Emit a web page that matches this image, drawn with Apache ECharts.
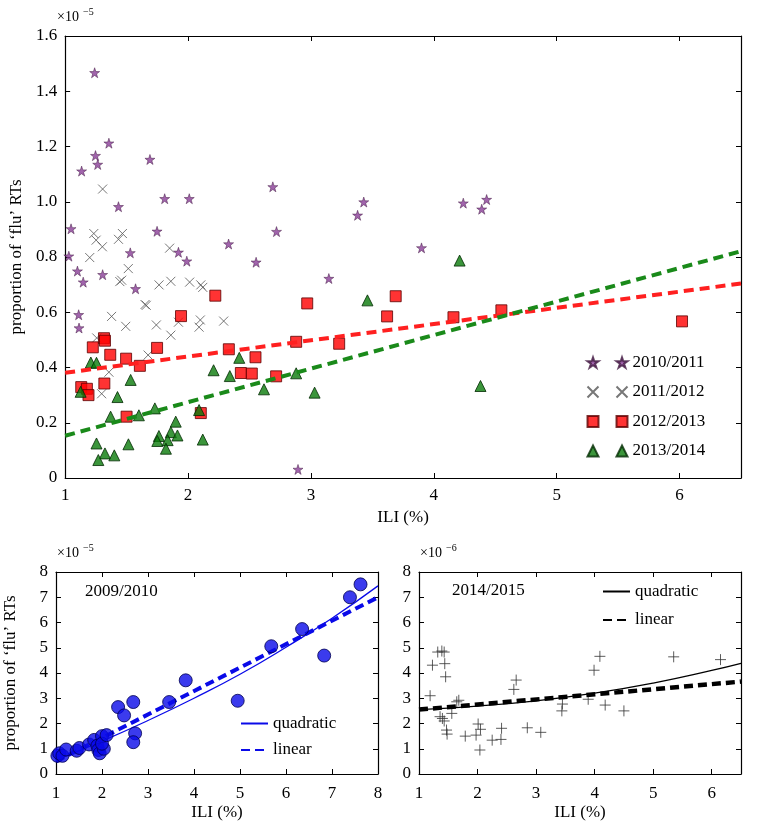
<!DOCTYPE html>
<html><head><meta charset="utf-8">
<script src="https://cdn.jsdelivr.net/npm/echarts@6/dist/echarts.min.js"></script>
<style>html,body{margin:0;padding:0;background:#fff}#c{width:784px;height:822px}</style>
</head><body><div id="c"></div>
<script>
const FONT = '"Liberation Serif", "Times New Roman", serif';

// ---- Top panel (×10^-5): proportion vs ILI ----
const s1011 = [[1.24,1.467],[1.356,1.212],[1.247,1.167],[1.265,1.135],[1.134,1.111],[1.69,1.153],[1.81,1.011],[2.01,1.011],[1.434,0.982],[2.69,1.054],[1.048,0.902],[1.748,0.893],[2.72,0.892],[2.33,0.847],[1.53,0.815],[1.922,0.817],[1.99,0.785],[2.554,0.781],[1.03,0.803],[1.10,0.749],[1.305,0.736],[1.147,0.709],[1.573,0.685],[1.11,0.591],[1.113,0.543],[2.895,0.031],[3.43,0.999],[3.38,0.951],[4.24,0.995],[4.43,1.008],[4.39,0.973],[3.90,0.833],[3.146,0.722]];
const s1112 = [[1.305,1.046],[1.233,0.885],[1.466,0.885],[1.252,0.861],[1.434,0.864],[1.303,0.837],[1.85,0.832],[1.20,0.798],[1.514,0.758],[1.445,0.711],[1.46,0.716],[1.764,0.699],[1.86,0.712],[2.013,0.709],[2.104,0.699],[2.12,0.69],[1.65,0.628],[1.66,0.625],[1.378,0.585],[1.493,0.549],[1.742,0.554],[1.922,0.564],[2.10,0.572],[2.09,0.546],[2.29,0.568],[1.86,0.517],[1.257,0.507],[1.675,0.445],[1.356,0.383],[1.297,0.305]];
const s1213 = [[2.222,0.66],[1.943,0.586],[1.316,0.506],[1.324,0.497],[1.225,0.473],[1.748,0.471],[1.367,0.446],[1.496,0.432],[1.608,0.406],[2.332,0.466],[2.549,0.437],[2.43,0.380],[2.519,0.378],[2.717,0.368],[2.88,0.493],[1.131,0.329],[1.177,0.323],[1.19,0.30],[1.319,0.342],[1.50,0.222],[2.104,0.235],[2.97,0.632],[3.69,0.658],[3.62,0.585],[4.16,0.582],[4.55,0.607],[3.23,0.486],[6.02,0.567]];
const s1314 = [[1.209,0.418],[1.255,0.417],[1.533,0.355],[1.126,0.312],[1.426,0.293],[1.37,0.222],[1.60,0.227],[1.73,0.252],[1.90,0.204],[1.86,0.166],[1.914,0.154],[1.763,0.152],[1.75,0.134],[1.834,0.137],[1.82,0.106],[1.255,0.125],[1.515,0.122],[1.324,0.089],[1.40,0.082],[1.27,0.065],[2.12,0.139],[2.09,0.246],[2.208,0.39],[2.34,0.369],[2.417,0.435],[2.618,0.321],[2.880,0.379],[3.46,0.643],[4.21,0.787],[4.38,0.333],[3.03,0.309]];
const fit1213 = [[1,0.381],[6.5,0.704]];
const fit1314 = [[1,0.153],[6.5,0.821]];

// ---- Bottom-left panel 2009/2010 (×10^-5) ----
const s0910 = [[1.03,0.72],[1.07,0.82],[1.14,0.72],[1.22,0.97],[1.45,0.92],[1.51,1.03],[1.72,1.17],[1.83,1.35],[1.90,1.12],[1.92,0.95],[1.95,0.82],[2.0,1.5],[2.04,1.0],[2.0,1.2],[2.10,1.54],[2.35,2.65],[2.48,2.32],[2.68,2.85],[2.72,1.61],[2.68,1.26],[3.46,2.85],[3.82,3.71],[4.95,2.90],[5.68,5.06],[6.35,5.74],[6.83,4.69],[7.39,7.0],[7.62,7.51]];
const quad0910 = [[1,0.55],[2,1.30],[3,2.12],[4,3.0],[5,3.95],[6,5.02],[7,6.17],[8,7.45]];
const lin0910 = [[1,0.5],[8,7.0]];

// ---- Bottom-right panel 2014/2015 (×10^-6) ----
const s1415 = [[1.32,4.83],[1.39,4.87],[1.43,4.83],[1.23,4.31],[1.44,4.37],[1.455,3.85],[1.19,3.10],[1.36,2.27],[1.40,2.20],[1.43,2.10],[1.56,2.40],[1.47,1.74],[1.48,1.58],[1.645,2.86],[1.68,2.92],[1.79,1.50],[1.975,1.54],[2.01,1.98],[2.05,1.77],[2.04,0.95],[2.25,1.34],[2.40,1.37],[2.41,1.81],[2.62,3.35],[2.66,3.72],[2.85,1.83],[3.08,1.65],[3.45,2.77],[3.44,2.50],[3.89,2.96],[3.99,4.11],[4.09,4.66],[4.18,2.73],[4.50,2.50],[5.35,4.64],[6.15,4.53]];
const quad1415 = [[1,2.55],[2,2.69],[3,2.9],[4,3.2],[5,3.6],[6,4.1],[6.5,4.38]];
const lin1415 = [[1,2.55],[6.5,3.66]];

const seasonNames = ['2010/2011','2011/2012','2012/2013','2013/2014'];

const STAR = 'path://M50,0 L61.8,35.3 L99,35.3 L69,57.3 L80.4,92.7 L50,71 L19.6,92.7 L31,57.3 L1,35.3 L38.2,35.3 Z';
const XMARK = 'path://M0,0 L10,10 M10,0 L0,10';
const PLUS = 'path://M5,0 L5,10 M0,5 L10,5';

const txt = {fontFamily: FONT, color: '#000'};
const aLine = {show: true, onZero: false, lineStyle: {color: '#000', width: 1.2}};
const aTick = {show: true, inside: true, length: 5, lineStyle: {color: '#000', width: 1}};

function xPair(grid, min, max, interval, hideMax, margin, gap) {
  return [
    {gridIndex: grid, type: 'value', min, max, interval, position: 'bottom',
     axisLine: aLine, axisTick: aTick, splitLine: {show: false},
     axisLabel: Object.assign({fontSize: 17, margin: margin, showMaxLabel: !hideMax}, txt),
     name: 'ILI (%)', nameLocation: 'middle', nameGap: gap,
     nameTextStyle: Object.assign({fontSize: 17}, txt)},
    {gridIndex: grid, type: 'value', min, max, interval, position: 'top',
     axisLine: aLine, axisTick: aTick, splitLine: {show: false}, axisLabel: {show: false}}
  ];
}
function yPair(grid, min, max, interval, fmt, name) {
  const a = {gridIndex: grid, type: 'value', min, max, interval, position: 'left',
     axisLine: aLine, axisTick: aTick, splitLine: {show: false},
     axisLabel: Object.assign({fontSize: 17, margin: 8, formatter: fmt}, txt)};
  if (name) {
    a.name = name; a.nameLocation = 'middle'; a.nameGap = 37;
    a.nameTextStyle = Object.assign({fontSize: 17}, txt);
  }
  return [a,
    {gridIndex: grid, type: 'value', min, max, interval, position: 'right',
     axisLine: aLine, axisTick: aTick, splitLine: {show: false}, axisLabel: {show: false}}];
}

const yName = 'proportion of \u2018flu\u2019 RTs';
const lineLegendBase = {orient: 'vertical', itemWidth: 27, itemHeight: 14, selectedMode: false,
  itemStyle: {opacity: 0}, textStyle: Object.assign({fontSize: 17}, txt)};
const option = {
  backgroundColor: '#fff',
  animation: false,
  grid: [
    {left: 57, top: 36, width: 684, height: 442},
    {left: 56, top: 572, width: 322, height: 202},
    {left: 419, top: 572, width: 322, height: 202}
  ],
  xAxis: [].concat(xPair(0, 1, 6.5, 1, true, 9, 23), xPair(1, 1, 8, 1, false, 11, 30), xPair(2, 1, 6.5, 1, true, 11, 30)),
  yAxis: [].concat(
    yPair(0, 0, 1.6, 0.2, v => v === 0 ? '0' : v.toFixed(1), yName),
    yPair(1, 0, 8, 1, v => String(v), yName),
    yPair(2, 0, 8, 1, v => String(v), null)),
  legend: [
    {data: seasonNames, orient: 'vertical', left: 580, top: 349, itemWidth: 11, itemHeight: 11, itemGap: 12.5,
     selectedMode: false, formatter: () => ' ', textStyle: Object.assign({fontSize: 17}, txt)},
    {data: seasonNames, orient: 'vertical', left: 609, top: 349, itemWidth: 11, itemHeight: 11, itemGap: 12.5,
     selectedMode: false, textStyle: Object.assign({fontSize: 17}, txt)},
    Object.assign({data: ['quadratic', 'linear'], left: 235, top: 710, itemGap: 9.5}, lineLegendBase),
    Object.assign({data: ['quadratic 2014/2015', 'linear 2014/2015'], left: 597, top: 578, itemGap: 11.5,
     formatter: n => n.split(' ')[0]}, lineLegendBase)
  ],
  graphic: [
    {type: 'text', left: 57, top: 10, style: {text: '\u00d710', fontSize: 14, fill: '#000', fontFamily: FONT}},
    {type: 'text', left: 83, top: 7, style: {text: '\u22125', fontSize: 10, fill: '#000', fontFamily: FONT}},
    {type: 'text', left: 57, top: 546, style: {text: '\u00d710', fontSize: 14, fill: '#000', fontFamily: FONT}},
    {type: 'text', left: 83, top: 543, style: {text: '\u22125', fontSize: 10, fill: '#000', fontFamily: FONT}},
    {type: 'text', left: 420, top: 546, style: {text: '\u00d710', fontSize: 14, fill: '#000', fontFamily: FONT}},
    {type: 'text', left: 446, top: 543, style: {text: '\u22126', fontSize: 10, fill: '#000', fontFamily: FONT}},
    {type: 'text', left: 85, top: 583, style: {text: '2009/2010', fontSize: 17, fill: '#000', fontFamily: FONT}},
    {type: 'text', left: 452, top: 582, style: {text: '2014/2015', fontSize: 17, fill: '#000', fontFamily: FONT}}
  ],
  series: [
    {name: '2010/2011', type: 'scatter', xAxisIndex: 0, yAxisIndex: 0, data: s1011, symbol: STAR, symbolSize: 10,
     itemStyle: {color: '#8a3d97', borderColor: '#40163f', borderWidth: 0.6}},
    {name: '2011/2012', type: 'scatter', xAxisIndex: 0, yAxisIndex: 0, data: s1112, symbol: XMARK, symbolSize: 9,
     itemStyle: {color: 'none', borderColor: '#555', borderWidth: 1}},
    {name: '2012/2013', type: 'scatter', xAxisIndex: 0, yAxisIndex: 0, data: s1213, symbol: 'rect', symbolSize: 11,
     itemStyle: {color: '#ff0000', borderColor: '#5a0000', borderWidth: 1}},
    {name: '2013/2014', type: 'scatter', xAxisIndex: 0, yAxisIndex: 0, data: s1314, symbol: 'triangle', symbolSize: 11,
     itemStyle: {color: '#0a7a0a', borderColor: '#022a02', borderWidth: 1}},
    {name: 'fit 2012/2013', type: 'line', xAxisIndex: 0, yAxisIndex: 0, data: fit1213, symbol: 'none', z: 5,
     itemStyle: {color: '#ff2020'}, lineStyle: {color: '#ff2020', width: 4, type: [10, 6]}},
    {name: 'fit 2013/2014', type: 'line', xAxisIndex: 0, yAxisIndex: 0, data: fit1314, symbol: 'none', z: 5,
     itemStyle: {color: '#1a8a1a'}, lineStyle: {color: '#1a8a1a', width: 4, type: [10, 6]}},

    {name: 'quadratic', type: 'line', xAxisIndex: 2, yAxisIndex: 2, data: quad0910, symbol: 'none', smooth: true, z: 1,
     itemStyle: {color: '#0a0ae8'}, lineStyle: {color: '#0a0ae8', width: 1.3, type: 'solid'}},
    {name: 'linear', type: 'line', xAxisIndex: 2, yAxisIndex: 2, data: lin0910, symbol: 'none', z: 1,
     itemStyle: {color: '#0a0ae8'}, lineStyle: {color: '#0a0ae8', width: 4, type: [9, 5]}},
    {name: '2009/2010', type: 'scatter', xAxisIndex: 2, yAxisIndex: 2, data: s0910, symbol: 'circle', symbolSize: 13, z: 3,
     itemStyle: {color: '#0a0ae8', borderColor: '#000050', borderWidth: 1}},

    {name: '2014/2015', type: 'scatter', xAxisIndex: 4, yAxisIndex: 4, data: s1415, symbol: PLUS, symbolSize: 11,
     itemStyle: {color: 'none', borderColor: '#333', borderWidth: 1}},
    {name: 'quadratic 2014/2015', type: 'line', xAxisIndex: 4, yAxisIndex: 4, data: quad1415, symbol: 'none', smooth: true, z: 5,
     itemStyle: {color: '#000'}, lineStyle: {color: '#000', width: 1.3, type: 'solid'}},
    {name: 'linear 2014/2015', type: 'line', xAxisIndex: 4, yAxisIndex: 4, data: lin1415, symbol: 'none', z: 5,
     itemStyle: {color: '#000'}, lineStyle: {color: '#000', width: 4.5, type: [9, 5]}}
  ]
};
const chart = echarts.init(document.getElementById('c'), null, {renderer: 'canvas'});
chart.setOption(option);
</script>
</body></html>
